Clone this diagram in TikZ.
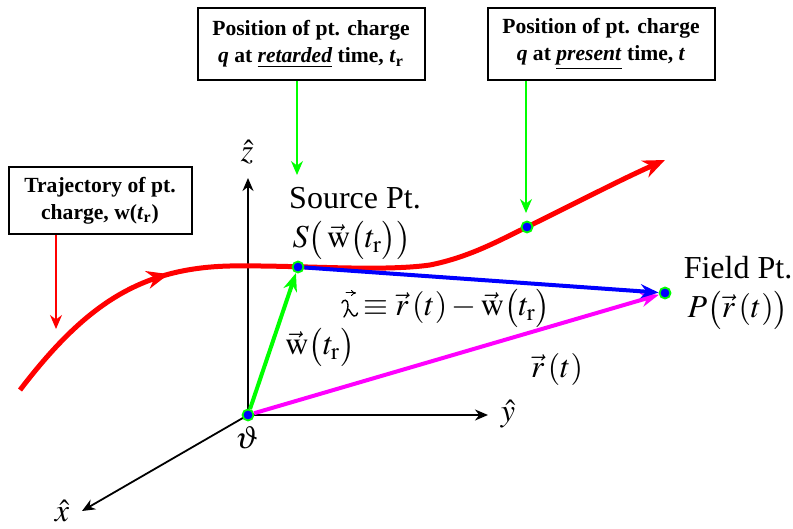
\documentclass[tikz,border=0pt]{standalone}
\usepackage{mathptmx}
\usepackage{fontspec}
\setmainfont{Liberation Serif}
\usetikzlibrary{arrows.meta,decorations.markings,positioning}
\definecolor{vecmagenta}{RGB}{255,0,255}
\definecolor{vecgreen}{RGB}{0,255,0}
\newcommand{\wvec}{\vec{\mathrm{w}}}

\begin{document}
\begin{tikzpicture}[x=0.5pt, y=-0.5pt,
    callbox/.style={draw, line width=1pt, align=center, inner sep=2pt,
        font=\fontsize{10.8}{13.5}\selectfont\bfseries, minimum height=36pt},
    callout/.style={-{Stealth[length=7pt,width=6pt]}, line width=0.8pt},
    axis/.style={-{Stealth[length=6.5pt,width=5.5pt]}, line width=0.9pt},
    ptdot/.style={circle, fill=blue, draw=vecgreen, line width=0.9pt,
        inner sep=0pt, minimum size=5.5pt},
    vecarrow/.style={line width=2pt, -{Stealth[length=9pt,width=7pt]}},
    lbl/.style={font=\fontsize{16}{18}\selectfont, inner sep=0.5pt}]
    \useasboundingbox (0,0) rectangle (793,529);

    % 1. Points
    \coordinate (O) at (248,415);
    \coordinate (S) at (298,267);
    \coordinate (P) at (665,293);
    \coordinate (Q) at (527,227);

    % 2. Axes
    \coordinate (ztip) at (248,178);
    \coordinate (ytip) at (488,415);
    \coordinate (xtip) at (82,511);
    \draw[axis] (O) -- (ztip);
    \draw[axis] (O) -- (ytip);
    \draw[axis] (O) -- (xtip);
    \node[lbl] (zhat) at (247,152) {$\hat{z}$};
    \node[lbl] (yhat) at (508,414) {$\hat{y}$};
    \node[lbl] (xhat) at (62,511) {$\hat{x}$};
    \node[lbl] (Olbl) at (247,438) {$\vartheta$};

    % 3. Trajectory w(t_r)
    \draw[red, line width=2.5pt, -{Stealth[length=11pt,width=9pt]},
        postaction={decorate}, decoration={markings,
            mark=at position 0.27 with {\arrow{Stealth[length=11pt,width=9pt]}}}]
        (20,390) .. controls (85,305) and (140,268) .. (230,266)
        .. controls (300,265) and (380,272) .. (430,265)
        .. controls (470,257) and (500,240) .. (Q)
        .. controls (580,201) and (620,180) .. (665,160);

    % 4. Points on the picture
    \node[ptdot] (Odot) at (O) {};
    \node[ptdot] (Sdot) at (S) {};
    \node[ptdot] (Pdot) at (P) {};
    \node[ptdot] (Qdot) at (Q) {};

    % 5. Vectors
    \draw[vecarrow, vecgreen] (Odot) -- (Sdot);
    \draw[vecarrow, vecmagenta] (Odot) -- (Pdot);
    \draw[vecarrow, blue] (Sdot) -- (Pdot);

    % 6. Labels
    \node[lbl] (srclbl) at (355,198) {Source Pt.};
    \node[lbl] (Slbl) at (352,240) {$S\bigl(\,\wvec\bigl(t_{\mathrm{r}}\bigr)\bigr)$};
    \node[lbl] (fldlbl) at (738,268) {Field Pt.};
    \node[lbl] (Plbl) at (738,310) {$P\bigl(\vec{r}\,(t)\bigr)$};
    \node[lbl, anchor=base west] (seplbl) at (362,316) {$\equiv \vec{r}\,(t) - \wvec\bigl(t_{\mathrm{r}}\bigr)$};
    % script r (separation vector)
    \begin{scope}[shift={(341,316)}, line width=0.7pt, line cap=round]
        \draw (1,-13) .. controls (2,-17) and (7,-17) .. (7,-11)
            .. controls (7,-6) and (5,-2) .. (3,1);
        \draw (6.5,-7) .. controls (9,-7) and (10,-1) .. (13,0)
            .. controls (15,0.5) and (16,-1) .. (16.5,-3);
        \draw[line width=0.5pt, -{To[length=2.5pt,width=3pt]}] (5,-23) -- (15,-23);
    \end{scope}
    \node[lbl] (wlbl) at (320,347) {$\wvec\bigl(t_{\mathrm{r}}\bigr)$};
    \node[lbl] (rlbl) at (557,370) {$\vec{r}\,(t)$};

    % 7. Call-out boxes
    \node[callbox, minimum width=113.5pt] (retbox) at (311,44)
        {Position of pt. charge\\ \textit{q} at \underline{\textit{retarded}} time, \textit{t}\textsubscript{r}};
    \node[callbox, minimum width=113.5pt] (prebox) at (601,44)
        {Position of pt. charge\\ \textit{q} at \underline{\textit{present}} time, \textit{t}};
    \node[callbox, minimum width=91.5pt, minimum height=33.5pt] (trajbox) at (100,201)
        {Trajectory of pt.\\ charge, w(\textit{t}\textsubscript{r})};

    \coordinate (rettip) at (297,175);
    \coordinate (pretip) at (526,213);
    \coordinate (trajtip) at (56,329);
    \draw[callout, vecgreen] (retbox.south -| rettip) -- (rettip);
    \draw[callout, vecgreen] (prebox.south -| pretip) -- (pretip);
    \draw[callout, red] (trajbox.south -| trajtip) -- (trajtip);
\end{tikzpicture}
\end{document}
